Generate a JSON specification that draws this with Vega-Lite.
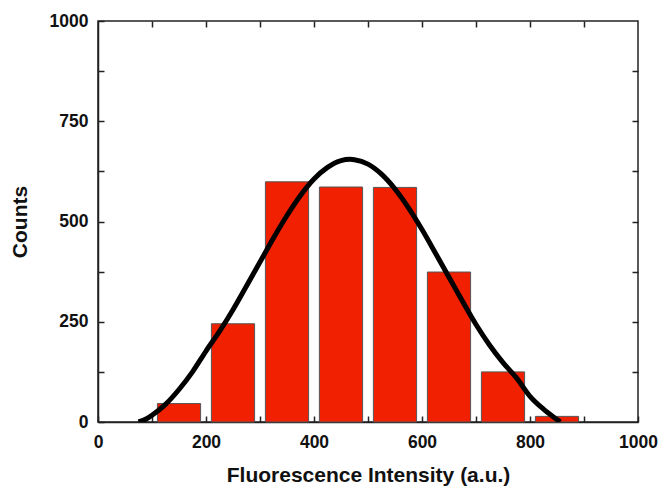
{
  "$schema": "https://vega.github.io/schema/vega-lite/v6.json",
  "autosize": "none",
  "width": 540,
  "height": 401,
  "padding": {"left": 98, "top": 21, "right": 26, "bottom": 65},
  "background": "white",
  "config": {
    "view": {"stroke": "#222", "strokeWidth": 1.5},
    "font": "Liberation Sans",
    "axis": {
      "grid": false,
      "domainColor": "#222",
      "domainWidth": 1.5,
      "tickColor": "#222",
      "tickWidth": 1.5,
      "labelFont": "Liberation Sans",
      "labelFontWeight": "bold",
      "labelFontSize": 17.5,
      "labelColor": "#111",
      "titleFont": "Liberation Sans",
      "titleFontWeight": "bold",
      "titleFontSize": 21,
      "titleColor": "#111"
    }
  },
  "datasets": {
    "bars": [
      {"lo": 110, "hi": 190, "count": 46},
      {"lo": 210, "hi": 290, "count": 245},
      {"lo": 310, "hi": 390, "count": 599},
      {"lo": 410, "hi": 490, "count": 586},
      {"lo": 510, "hi": 590, "count": 585},
      {"lo": 610, "hi": 690, "count": 374},
      {"lo": 710, "hi": 790, "count": 125},
      {"lo": 810, "hi": 890, "count": 14}
    ],
    "fit": [
      {"x": 75, "y": 0}, {"x": 90, "y": 8}, {"x": 100, "y": 17}, {"x": 125, "y": 44},
      {"x": 150, "y": 81}, {"x": 175, "y": 125}, {"x": 200, "y": 177}, {"x": 225, "y": 226},
      {"x": 250, "y": 280}, {"x": 275, "y": 339}, {"x": 300, "y": 399}, {"x": 325, "y": 459},
      {"x": 350, "y": 515}, {"x": 375, "y": 565}, {"x": 400, "y": 606}, {"x": 425, "y": 635},
      {"x": 450, "y": 652}, {"x": 467, "y": 655}, {"x": 475, "y": 654}, {"x": 500, "y": 643},
      {"x": 525, "y": 618}, {"x": 550, "y": 581}, {"x": 575, "y": 534}, {"x": 600, "y": 480},
      {"x": 625, "y": 421}, {"x": 650, "y": 361}, {"x": 675, "y": 301}, {"x": 700, "y": 243},
      {"x": 725, "y": 192}, {"x": 750, "y": 148}, {"x": 775, "y": 110}, {"x": 800, "y": 64},
      {"x": 825, "y": 32}, {"x": 850, "y": 6}, {"x": 856, "y": 0}
    ]
  },
  "layer": [
    {
      "data": {"name": "bars"},
      "mark": {"type": "bar", "color": "#f02000", "stroke": "#555", "strokeWidth": 1},
      "encoding": {
        "x": {
          "field": "lo", "type": "quantitative",
          "scale": {"domain": [0, 1000], "nice": false},
          "axis": {
            "orient": "bottom",
            "values": [0, 100, 200, 300, 400, 500, 600, 700, 800, 900, 1000],
            "format": "d",
            "labelExpr": "datum.value % 200 === 0 ? datum.label : ''",
            "tickSize": -6,
            "labelPadding": 17,
            "labelFlush": false,
            "title": "Fluorescence Intensity (a.u.)",
            "titlePadding": 14
          }
        },
        "x2": {"field": "hi"},
        "y": {
          "field": "count", "type": "quantitative",
          "scale": {"domain": [0, 1000], "nice": false},
          "axis": {
            "orient": "left",
            "values": [0, 125, 250, 375, 500, 625, 750, 875, 1000],
            "format": "d",
            "labelExpr": "datum.value % 250 === 0 ? datum.label : ''",
            "tickSize": -6,
            "labelPadding": 16,
            "labelFlush": false,
            "title": "Counts",
            "titlePadding": 19
          }
        },
        "y2": {"datum": 0}
      }
    },
    {
      "data": {"name": "fit"},
      "mark": {"type": "line", "color": "#000", "strokeWidth": 5, "interpolate": "monotone", "clip": true},
      "encoding": {
        "x": {
          "field": "x", "type": "quantitative",
          "axis": {
            "orient": "top",
            "values": [100, 200, 300, 400, 500, 600, 700, 800, 900],
            "labels": false, "tickSize": -6, "title": null, "domain": false
          }
        },
        "y": {
          "field": "y", "type": "quantitative",
          "axis": {
            "orient": "right",
            "values": [125, 250, 375, 500, 625, 750, 875],
            "labels": false, "tickSize": -6, "title": null, "domain": false
          }
        }
      }
    }
  ],
  "resolve": {"axis": {"x": "independent", "y": "independent"}}
}
